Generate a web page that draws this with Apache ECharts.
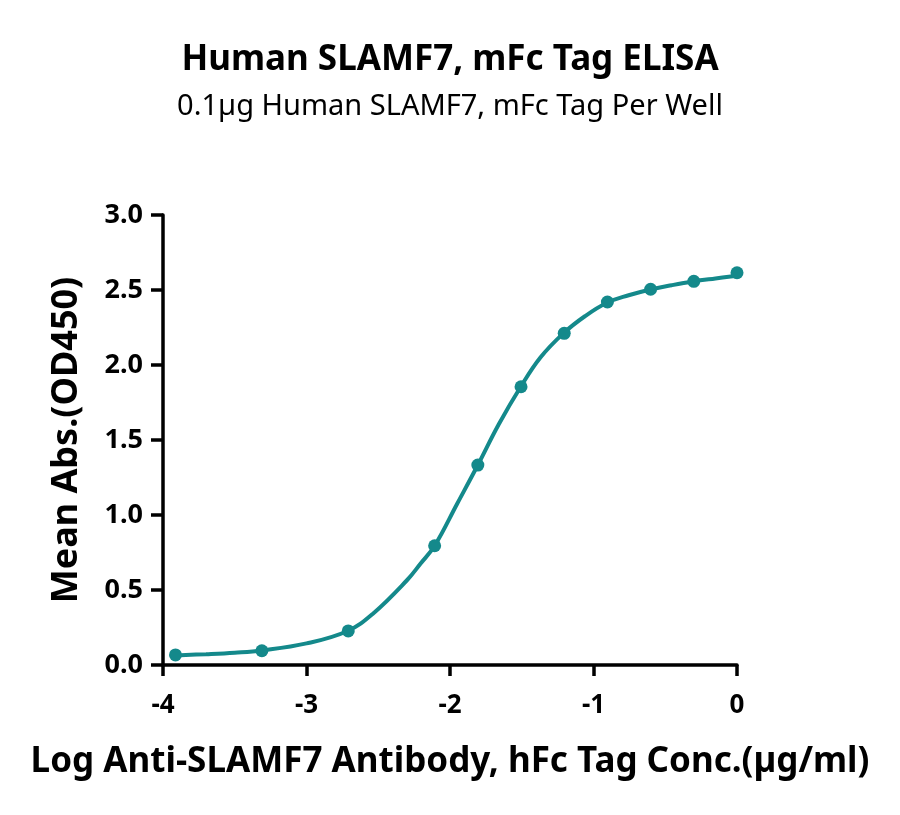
<!DOCTYPE html>
<html>
<head>
<meta charset="utf-8">
<script src="https://cdn.jsdelivr.net/npm/echarts@6/dist/echarts.min.js"></script>
<style>
  html, body { margin: 0; padding: 0; background: #fff; }
  #chart { width: 900px; height: 815px; }
</style>
</head>
<body>
<div id="chart"></div>
<script>
const logConc = [-3.913, -3.311, -2.709, -2.107, -1.806, -1.505, -1.204, -0.903, -0.602, -0.301, 0];
const meanAbs = [0.067, 0.095, 0.227, 0.795, 1.333, 1.855, 2.211, 2.42, 2.505, 2.558, 2.615];

// fitted curve
const fitX = [-3.913, -3.7, -3.5, -3.311, -3.0, -2.713, -2.535, -2.3, -2.206, -2.107, -1.95, -1.806, -1.66,
              -1.507, -1.37, -1.21, -1.06, -0.906, -0.755, -0.61, -0.455, -0.306, -0.15, 0];
const fitY = [0.064, 0.072, 0.082, 0.097, 0.144, 0.227, 0.344, 0.565, 0.675, 0.795, 1.075, 1.333, 1.605,
              1.855, 2.05, 2.211, 2.325, 2.415, 2.465, 2.502, 2.532, 2.557, 2.577, 2.595];

const xTicks = [-4, -3, -2, -1, 0];
const yTicks = [0, 0.5, 1.0, 1.5, 2.0, 2.5, 3.0];

const teal = '#14898b';
const font = '"Noto Sans", sans-serif';

let chart = echarts.init(document.getElementById('chart'));

const option = {
    backgroundColor: '#fff',
    animation: false,
    title: {
        text: 'Human SLAMF7, mFc Tag ELISA',
        subtext: '0.1µg Human SLAMF7, mFc Tag Per Well',
        left: 'center',
        top: 38,
        itemGap: 14,
        textStyle: { fontFamily: font, fontSize: 35, fontWeight: 'bold', color: '#000' },
        subtextStyle: { fontFamily: font, fontSize: 29, color: '#000' }
    },
    grid: { left: 163, right: 163, top: 215, bottom: 150 },
    xAxis: {
        type: 'value',
        min: xTicks[0],
        max: xTicks[xTicks.length - 1],
        interval: 1,
        name: 'Log Anti-SLAMF7 Antibody, hFc Tag Conc.(µg/ml)',
        nameLocation: 'middle',
        nameGap: 80,
        nameTextStyle: { fontFamily: font, fontSize: 35, fontWeight: 'bold', color: '#000' },
        axisLine: { onZero: false, lineStyle: { color: '#000', width: 3.5 } },
        axisTick: { length: 11, lineStyle: { color: '#000', width: 3.5 } },
        axisLabel: { fontFamily: font, fontSize: 26, fontWeight: 'bold', color: '#000', margin: 28 },
        splitLine: { show: false }
    },
    yAxis: {
        type: 'value',
        min: yTicks[0],
        max: yTicks[yTicks.length - 1],
        interval: 0.5,
        name: 'Mean Abs.(OD450)',
        nameLocation: 'middle',
        nameGap: 78,
        nameTextStyle: { fontFamily: font, fontSize: 36, fontWeight: 'bold', color: '#000' },
        axisLine: { show: true, onZero: false, lineStyle: { color: '#000', width: 3.5 } },
        axisTick: { show: true, length: 12, lineStyle: { color: '#000', width: 3.5 } },
        axisLabel: {
            fontFamily: font, fontSize: 27, fontWeight: 'bold', color: '#000', margin: 20,
            formatter: v => v.toFixed(1)
        },
        splitLine: { show: false }
    },
    series: [{
        type: 'line',
        data: fitX.map((x, i) => [x, fitY[i]]),
        smooth: 0.4,
        showSymbol: false,
        lineStyle: { color: teal, width: 4 },
        z: 2
    }, {
        type: 'scatter',
        data: logConc.map((x, i) => [x, meanAbs[i]]),
        symbol: 'circle',
        symbolSize: 13,
        itemStyle: { color: teal, opacity: 1 },
        z: 3
    }]
};

chart.setOption(option);
</script>
</body>
</html>
